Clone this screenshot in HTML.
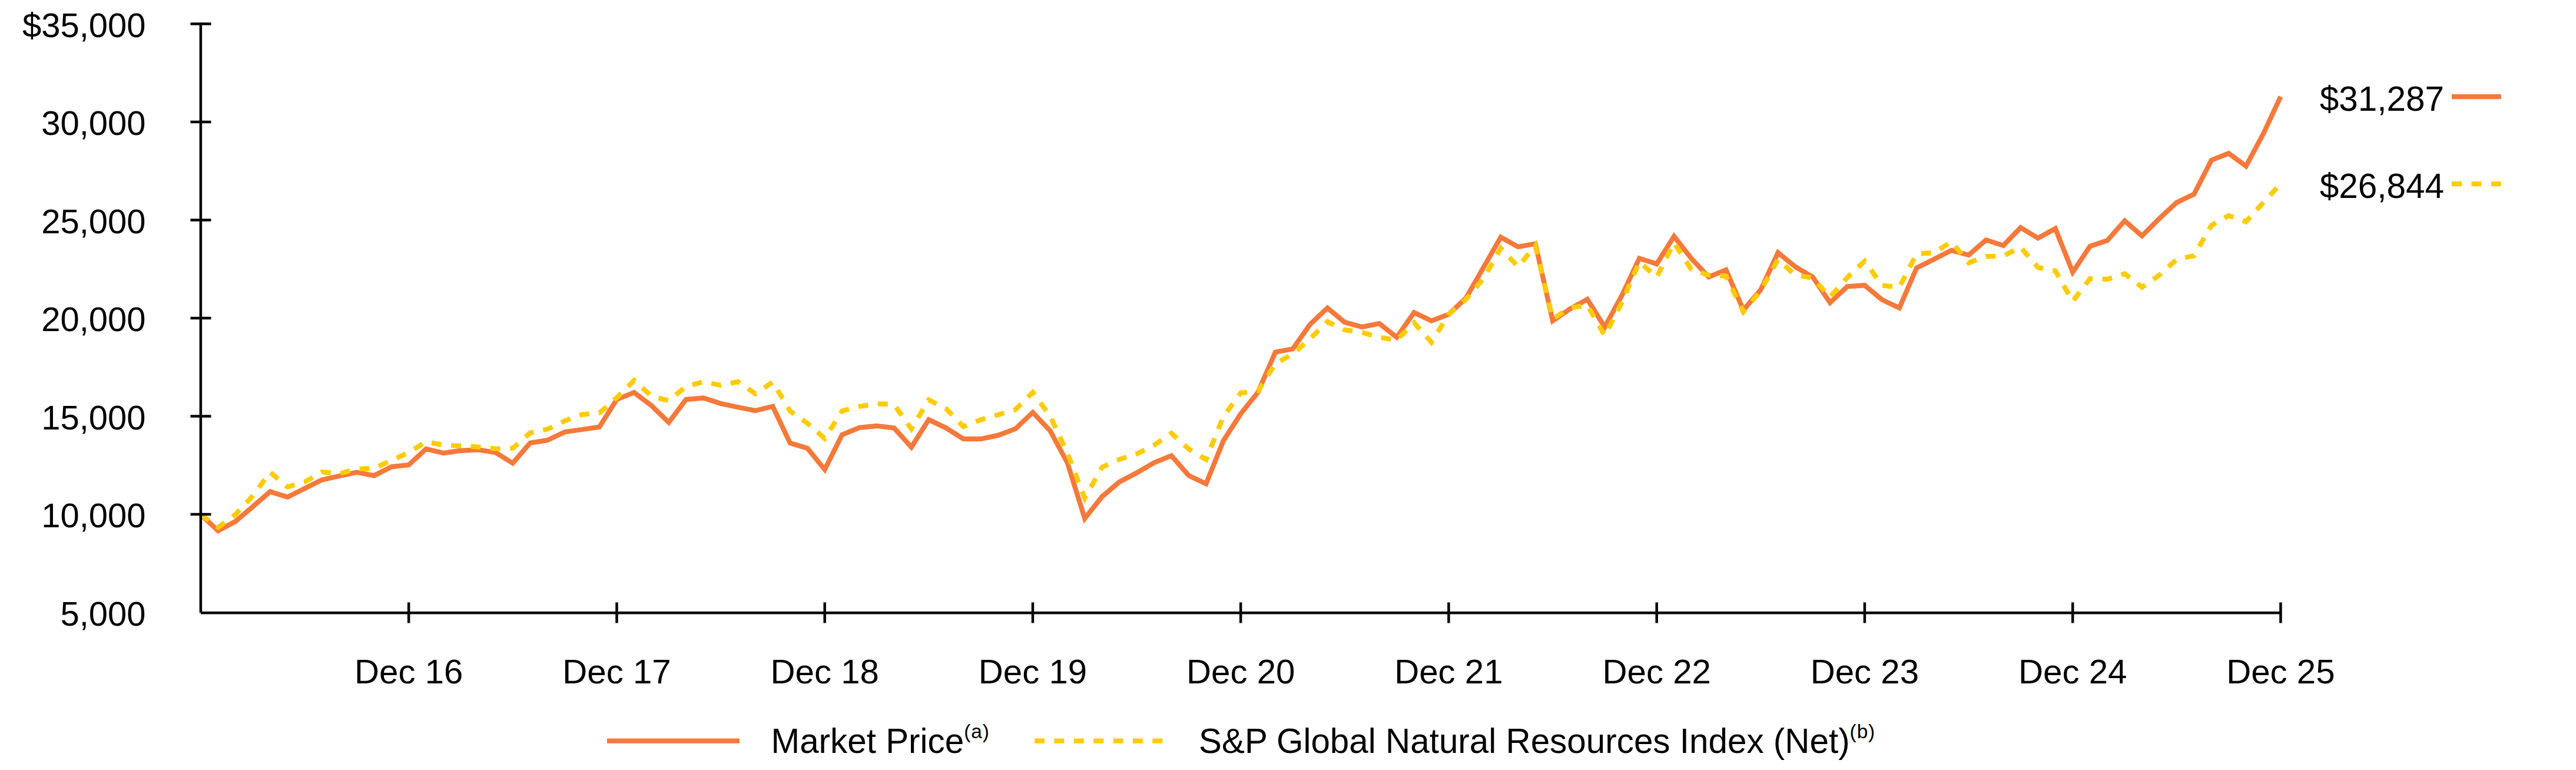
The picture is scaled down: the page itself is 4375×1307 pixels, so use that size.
<!DOCTYPE html>
<html lang="en"><head><meta charset="utf-8"><title>Growth of $10,000</title>
<style>html,body{margin:0;padding:0;background:#fff}svg{display:block}text{font-family:"Liberation Sans",Arial,sans-serif;fill:#000}</style></head><body>
<svg width="4375" height="1307" viewBox="0 0 4375 1307">
<rect width="4375" height="1307" fill="#fff"/>
<polyline points="341.0,873.5 370.4,901.0 399.9,885.0 429.3,860.0 458.7,834.5 488.2,843.8 517.6,829.0 547.1,814.4 576.5,808.0 605.9,801.7 635.4,807.3 664.8,792.4 694.2,789.0 723.7,762.0 753.1,769.0 782.5,765.0 812.0,763.4 841.4,768.0 870.9,786.2 900.3,751.9 929.7,747.2 959.2,733.2 988.6,729.0 1018.0,724.7 1047.5,678.0 1076.9,666.2 1106.4,688.5 1135.8,717.0 1165.2,678.0 1194.7,675.5 1224.1,685.0 1253.5,691.3 1283.0,697.0 1312.4,689.8 1341.8,752.0 1371.3,760.9 1400.7,797.0 1430.2,738.0 1459.6,725.8 1489.0,723.0 1518.5,726.4 1547.9,759.0 1577.3,712.4 1606.8,726.4 1636.2,745.0 1665.7,745.0 1695.1,738.9 1724.5,728.0 1754.0,700.0 1783.4,731.0 1812.8,785.4 1842.3,880.0 1871.7,843.0 1901.1,818.0 1930.6,802.5 1960.0,785.4 1989.5,773.5 2018.9,807.2 2048.3,821.2 2077.8,748.0 2107.2,702.4 2136.6,665.5 2166.1,597.6 2195.5,592.3 2224.9,550.8 2254.4,522.7 2283.8,547.0 2313.3,554.9 2342.7,549.2 2372.1,572.6 2401.6,530.5 2431.0,544.6 2460.4,533.7 2489.9,505.6 2519.3,454.2 2548.8,402.7 2578.2,419.0 2607.6,413.7 2637.1,544.6 2666.5,524.3 2695.9,508.0 2725.4,555.3 2754.8,501.0 2784.2,438.6 2813.7,448.0 2843.1,401.2 2872.6,438.9 2902.0,470.0 2931.4,458.2 2960.9,526.2 2990.3,491.9 3019.7,428.9 3049.2,452.9 3078.6,470.0 3108.0,513.7 3137.5,486.3 3166.9,484.3 3196.4,508.8 3225.8,522.7 3255.2,454.7 3284.7,440.0 3314.1,425.0 3343.5,432.9 3373.0,407.3 3402.4,416.7 3431.8,386.3 3461.3,404.2 3490.7,388.0 3520.2,462.0 3549.6,418.0 3579.0,408.2 3608.5,374.8 3637.9,400.4 3667.3,371.0 3696.8,343.7 3726.2,329.6 3755.7,272.0 3785.1,260.3 3814.5,282.0 3844.0,227.0 3873.4,164.1" fill="none" stroke="#F4793B" stroke-width="8.3" stroke-linejoin="miter" stroke-miterlimit="10"/>
<polyline points="341.0,873.5 370.4,895.0 399.9,873.4 429.3,841.5 458.7,801.5 488.2,826.5 517.6,818.0 547.1,801.0 576.5,804.0 605.9,796.0 635.4,795.0 664.8,781.5 694.2,768.0 723.7,749.8 753.1,755.5 782.5,757.0 812.0,758.7 841.4,761.8 870.9,761.0 900.3,734.7 929.7,728.5 959.2,714.5 988.6,703.5 1018.0,701.0 1047.5,675.0 1076.9,645.8 1106.4,672.6 1135.8,680.0 1165.2,656.0 1194.7,648.0 1224.1,654.0 1253.5,648.0 1283.0,668.5 1312.4,648.5 1341.8,697.6 1371.3,718.4 1400.7,744.3 1430.2,697.5 1459.6,690.0 1489.0,685.2 1518.5,686.8 1547.9,728.0 1577.3,678.7 1606.8,693.7 1636.2,724.2 1665.7,712.4 1695.1,704.0 1724.5,695.2 1754.0,666.0 1783.4,706.0 1812.8,769.0 1842.3,845.5 1871.7,793.0 1901.1,779.8 1930.6,770.4 1960.0,755.7 1989.5,735.2 2018.9,762.0 2048.3,780.0 2077.8,707.0 2107.2,667.0 2136.6,663.7 2166.1,617.4 2195.5,600.7 2224.9,575.0 2254.4,546.0 2283.8,560.0 2313.3,564.2 2342.7,572.6 2372.1,577.5 2401.6,547.7 2431.0,581.0 2460.4,534.0 2489.9,507.8 2519.3,473.0 2548.8,421.4 2578.2,452.6 2607.6,416.8 2637.1,541.5 2666.5,522.5 2695.9,518.0 2725.4,569.6 2754.8,513.0 2784.2,444.5 2813.7,470.6 2843.1,412.0 2872.6,457.6 2902.0,467.0 2931.4,468.5 2960.9,529.3 2990.3,493.4 3019.7,440.4 3049.2,467.0 3078.6,471.6 3108.0,504.3 3137.5,471.0 3166.9,443.3 3196.4,484.6 3225.8,487.4 3255.2,430.7 3284.7,429.0 3314.1,410.4 3343.5,446.0 3373.0,435.4 3402.4,434.5 3431.8,419.5 3461.3,454.0 3490.7,459.7 3520.2,511.5 3549.6,473.0 3579.0,474.0 3608.5,464.5 3637.9,487.5 3667.3,467.0 3696.8,440.3 3726.2,434.0 3755.7,382.6 3785.1,366.0 3814.5,376.4 3844.0,343.7 3873.4,312.0" fill="none" stroke="#FFCB05" stroke-width="8.3" stroke-dasharray="16.9 16.515" stroke-linejoin="miter"/>
<g stroke="#000" stroke-width="4.5" fill="none">
<path d="M340.9 38.3 V1040"/>
<path d="M341 1040.2 H3873.4"/>
<path d="M323.5 40.5 H358.5"/>
<path d="M323.5 207.0 H358.5"/>
<path d="M323.5 373.5 H358.5"/>
<path d="M323.5 540.0 H358.5"/>
<path d="M323.5 706.5 H358.5"/>
<path d="M323.5 873.0 H358.5"/>
<path d="M694.2 1022.5 V1057.5"/>
<path d="M1047.5 1022.5 V1057.5"/>
<path d="M1400.7 1022.5 V1057.5"/>
<path d="M1754.0 1022.5 V1057.5"/>
<path d="M2107.2 1022.5 V1057.5"/>
<path d="M2460.4 1022.5 V1057.5"/>
<path d="M2813.7 1022.5 V1057.5"/>
<path d="M3166.9 1022.5 V1057.5"/>
<path d="M3520.2 1022.5 V1057.5"/>
<path d="M3873.4 1022.5 V1057.5"/>
</g>
<text x="247.6" y="62.7" font-size="58" text-anchor="end">$35,000</text>
<text x="247.6" y="229.2" font-size="58" text-anchor="end">30,000</text>
<text x="247.6" y="395.7" font-size="58" text-anchor="end">25,000</text>
<text x="247.6" y="562.2" font-size="58" text-anchor="end">20,000</text>
<text x="247.6" y="728.7" font-size="58" text-anchor="end">15,000</text>
<text x="247.6" y="895.2" font-size="58" text-anchor="end">10,000</text>
<text x="247.6" y="1061.7" font-size="58" text-anchor="end">5,000</text>
<text x="694.2" y="1159.5" font-size="58.2" text-anchor="middle">Dec 16</text>
<text x="1047.5" y="1159.5" font-size="58.2" text-anchor="middle">Dec 17</text>
<text x="1400.7" y="1159.5" font-size="58.2" text-anchor="middle">Dec 18</text>
<text x="1754.0" y="1159.5" font-size="58.2" text-anchor="middle">Dec 19</text>
<text x="2107.2" y="1159.5" font-size="58.2" text-anchor="middle">Dec 20</text>
<text x="2460.4" y="1159.5" font-size="58.2" text-anchor="middle">Dec 21</text>
<text x="2813.7" y="1159.5" font-size="58.2" text-anchor="middle">Dec 22</text>
<text x="3166.9" y="1159.5" font-size="58.2" text-anchor="middle">Dec 23</text>
<text x="3520.2" y="1159.5" font-size="58.2" text-anchor="middle">Dec 24</text>
<text x="3873.4" y="1159.5" font-size="58.2" text-anchor="middle">Dec 25</text>
<text x="3939.8" y="187.5" font-size="58.4">$31,287</text>
<path d="M4164 164.2 H4247.8" stroke="#F4793B" stroke-width="8.3"/>
<text x="3939.8" y="336.3" font-size="58.4">$26,844</text>
<path d="M4164 312.1 H4247.8" stroke="#FFCB05" stroke-width="8.3" stroke-dasharray="17 16.4"/>
<path d="M1031 1257.6 H1256" stroke="#F4793B" stroke-width="8.3"/>
<text x="1309.5" y="1278" font-size="58.4">Market Price<tspan font-size="33.4" letter-spacing="0.9" dy="-24.8">(a)</tspan></text>
<path d="M1757 1257.6 H1975" stroke="#FFCB05" stroke-width="8.3" stroke-dasharray="17 16.4"/>
<text x="2036" y="1278" font-size="58.4">S&amp;P Global Natural Resources Index (Net)<tspan font-size="33.4" letter-spacing="0.9" dy="-24.8">(b)</tspan></text>
</svg></body></html>
